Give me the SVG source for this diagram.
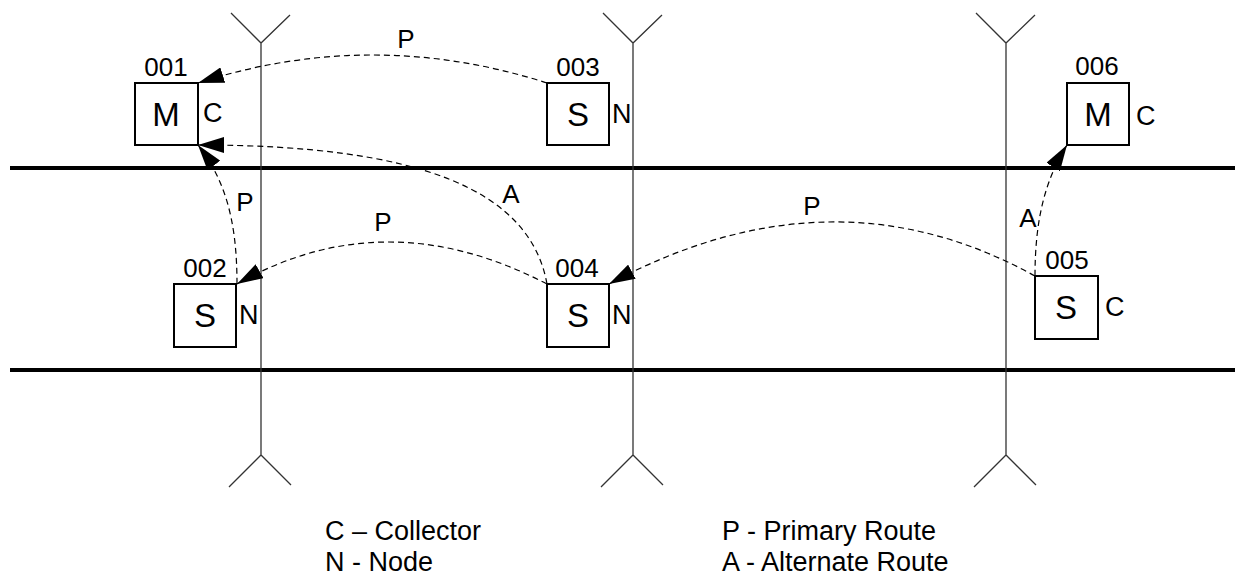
<svg xmlns="http://www.w3.org/2000/svg" width="1243" height="575" viewBox="0 0 1243 575">
  <style>
    .bus { stroke: #000; stroke-width: 4; fill: none; }
    .ant { stroke: #333; stroke-width: 1.3; fill: none; }
    .box { fill: #fff; stroke: #000; stroke-width: 2; }
    .conn { fill: none; stroke: #000; stroke-width: 1.2; stroke-dasharray: 6 4; }
    text { font-family: "Liberation Sans", Arial, sans-serif; fill: #000; }
    .num { font-size: 26px; text-anchor: middle; }
    .big { font-size: 33px; text-anchor: middle; }
    .side { font-size: 27px; }
    .lbl { font-size: 26px; text-anchor: middle; }
    .leg { font-size: 27px; }
  </style>
  <defs>
    <marker id="arrow" viewBox="0 0 26 16" refX="26" refY="8" markerWidth="26" markerHeight="16" markerUnits="userSpaceOnUse" orient="auto">
      <path d="M0,0 L26,8 L0,16 z" fill="#000" stroke="none"/>
    </marker>
  </defs>
  <rect x="0" y="0" width="1243" height="575" fill="#fff"/>

  <g id="network">
    <line class="bus" x1="10" y1="168" x2="1235" y2="168"/>
    <line class="bus" x1="10" y1="370" x2="1235" y2="370"/>
    <path class="ant" d="M231,13 L261,43 L290,15 M261,43 L261,455 M229,487 L261,455 L291,485"/>
    <path class="ant" d="M603,13 L633,43 L662,15 M633,43 L633,455 M601,487 L633,455 L663,485"/>
    <path class="ant" d="M976,13 L1006,43 L1035,15 M1006,43 L1006,455 M974,487 L1006,455 L1036,485"/>
  </g>

  <g id="connectors">
    <path class="conn" d="M547,83 Q372,27 198,83" marker-end="url(#arrow)"/>
    <path class="conn" d="M547,284 C530,190 420,145 198,145" marker-end="url(#arrow)"/>
    <path class="conn" d="M237,284 C237,220 225,180 198,145" marker-end="url(#arrow)"/>
    <path class="conn" d="M547,284 Q385,200 237,284" marker-end="url(#arrow)"/>
    <path class="conn" d="M1035,276 Q832,164 609,284" marker-end="url(#arrow)"/>
    <path class="conn" d="M1035,276 C1035,220 1045,180 1067,145" marker-end="url(#arrow)"/>
    <text class="lbl" x="406" y="48">P</text>
    <text class="lbl" x="511" y="203">A</text>
    <text class="lbl" x="245" y="211">P</text>
    <text class="lbl" x="383" y="231">P</text>
    <text class="lbl" x="812" y="215">P</text>
    <text class="lbl" x="1028" y="227">A</text>
  </g>

  <g id="node-001">
    <rect class="box" x="135" y="83" width="63" height="62"/>
    <text class="num" x="166" y="76">001</text>
    <text class="big" x="166" y="126">M</text>
    <text class="side" x="203" y="122">C</text>
  </g>
  <g id="node-002">
    <rect class="box" x="174" y="284" width="62" height="63"/>
    <text class="num" x="205" y="277">002</text>
    <text class="big" x="205" y="327">S</text>
    <text class="side" x="239" y="324">N</text>
  </g>
  <g id="node-003">
    <rect class="box" x="547" y="83" width="62" height="62"/>
    <text class="num" x="578" y="76">003</text>
    <text class="big" x="578" y="126">S</text>
    <text class="side" x="612" y="123">N</text>
  </g>
  <g id="node-004">
    <rect class="box" x="547" y="284" width="62" height="63"/>
    <text class="num" x="577" y="277">004</text>
    <text class="big" x="578" y="327">S</text>
    <text class="side" x="612" y="324">N</text>
  </g>
  <g id="node-005">
    <rect class="box" x="1035" y="276" width="63" height="63"/>
    <text class="num" x="1067" y="269">005</text>
    <text class="big" x="1066" y="319">S</text>
    <text class="side" x="1105" y="316">C</text>
  </g>
  <g id="node-006">
    <rect class="box" x="1067" y="83" width="62" height="62"/>
    <text class="num" x="1097" y="75">006</text>
    <text class="big" x="1098" y="126">M</text>
    <text class="side" x="1136" y="125">C</text>
  </g>

  <g id="legend">
    <text class="leg" x="325" y="540">C – Collector</text>
    <text class="leg" x="325" y="571">N - Node</text>
    <text class="leg" x="722" y="540">P - Primary Route</text>
    <text class="leg" x="722" y="571">A - Alternate Route</text>
  </g>
</svg>
